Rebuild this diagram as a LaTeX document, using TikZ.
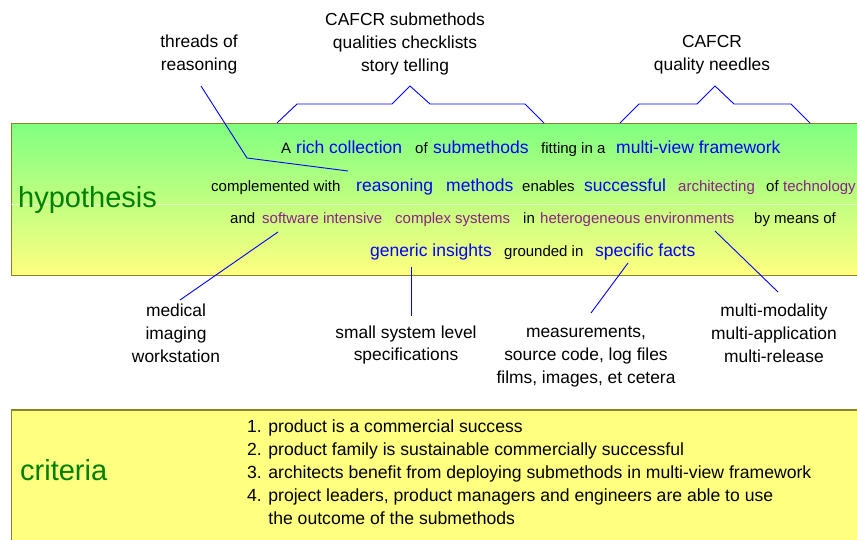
\documentclass[tikz,border=0pt]{standalone}
\usepackage{fontspec}
\setmainfont{Liberation Sans}
\definecolor{bw}{RGB}{0,0,255}
\definecolor{pw}{RGB}{136,34,136}
\definecolor{gw}{RGB}{0,128,0}
\definecolor{boxgreen}{RGB}{128,255,128}
\definecolor{boxyellow}{RGB}{255,255,128}
\definecolor{boxedge}{RGB}{140,130,40}
\begin{document}
\begin{tikzpicture}[x=1pt,y=-1pt,
  bigbox/.style={draw=boxedge,line width=1.5pt,anchor=north west,inner sep=0pt},
  plain/.style={font=\fontsize{15}{18}\selectfont,anchor=base west,inner sep=0pt},
  blueword/.style={plain,text=bw,font=\fontsize{17.5}{20}\selectfont},
  purpword/.style={plain,text=pw,font=\fontsize{15}{18}\selectfont},
  title/.style={text=gw,font=\fontsize{29}{32}\selectfont,anchor=base west,inner sep=0pt},
  lbl/.style={align=center,font=\fontsize{17.4}{23}\selectfont,inner sep=0pt},
  link/.style={draw=bw,line width=0.9pt}]
\useasboundingbox (0,0) rectangle (857,540);
% boxes
\node[bigbox,top color=boxgreen,bottom color=boxyellow,minimum width=870pt,minimum height=152pt] (hyp) at (10.5,123) {};
\draw[white,opacity=0.5,line width=0.6pt] (11.3,204) -- (857,204);
\node[bigbox,fill=boxyellow,minimum width=870pt,minimum height=150pt] (crit) at (10.5,409) {};
\node[title] (hyptitle) at (18,208) {hypothesis};
\node[title] (crittitle) at (20,480) {criteria};
% row 1
\node[plain] (a1) at (281,154) {A};
\node[blueword] (a2) at (296,154) {rich collection};
\node[plain] (a3) at (415,154) {of};
\node[blueword] (a4) at (433,154) {submethods};
\node[plain] (a5) at (541,154) {fitting in a};
\node[blueword] (a6) at (616,154) {multi-view framework};
% row 2
\node[plain] (b1) at (211,192) {complemented with};
\node[blueword] (b2) at (356,192) {reasoning};
\node[blueword] (b3) at (446,192) {methods};
\node[plain] (b4) at (522,192) {enables};
\node[blueword] (b5) at (584,192) {successful};
\node[purpword] (b6) at (678,192) {architecting};
\node[plain] (b7) at (766,192) {of};
\node[purpword] (b8) at (783,192) {technology};
% row 3
\node[plain] (c1) at (230,224) {and};
\node[purpword] (c2) at (262,224) {software intensive};
\node[purpword] (c3) at (395,224) {complex systems};
\node[plain] (c4) at (523,224) {in};
\node[purpword] (c5) at (540,224) {heterogeneous environments};
\node[plain] (c6) at (754,224) {by means of};
% row 4
\node[blueword] (d1) at (370,257) {generic insights};
\node[plain] (d2) at (504,257) {grounded in};
\node[blueword] (d3) at (595,257) {specific facts};
% labels
\node[lbl] (threads) at (199,55) {threads of\\reasoning};
\node[lbl] (cafcr1) at (405,44) {CAFCR submethods\\qualities checklists\\story telling};
\node[lbl] (cafcr2) at (712,55) {CAFCR\\quality needles};
\node[lbl] (medical) at (176,333) {medical\\imaging\\workstation};
\node[lbl] (small) at (406,345) {small system level\\specifications};
\node[lbl] (meas) at (586,357) {measurements,\\source code, log files\\films, images, et cetera};
\node[lbl] (multi) at (774,333) {multi-modality\\multi-application\\multi-release};
% criteria list
\node[anchor=north west,align=left,inner sep=0pt,font=\fontsize{17.6}{22.8}\selectfont] (list) at (247,420)
 {1. product is a commercial success\\
  2. product family is sustainable commercially successful\\
  3. architects benefit from deploying submethods in multi-view framework\\
  4. project leaders, product managers and engineers are able to use\\
  \phantom{4. }the outcome of the submethods};
% connectors
\coordinate (t1) at (201,86);
\coordinate (t2) at (247,158);
\coordinate (t3) at (348,171);
\draw[link] (t1) -- (t2) -- (t3);
\coordinate (s1) at (277,123);
\coordinate (s7) at (544,123);
\draw[link] (s1) -- (297,104) -- (392,104) -- (410,86) -- (430,104) -- (525,104) -- (s7);
\coordinate (q1) at (620,123);
\coordinate (q7) at (810,123);
\draw[link] (q1) -- (639,104) -- (697,104) -- (715,86) -- (734,104) -- (791,104) -- (q7);
\coordinate (m1) at (278,232);
\coordinate (m2) at (180,300);
\draw[link] (m1) -- (m2);
\coordinate (g1) at (411,267);
\coordinate (g2) at (411,316);
\draw[link] (g1) -- (g2);
\coordinate (f1) at (628,263);
\coordinate (f2) at (591,313);
\draw[link] (f1) -- (f2);
\coordinate (h1) at (715,231);
\coordinate (h2) at (778,292);
\draw[link] (h1) -- (h2);
\end{tikzpicture}
\end{document}
